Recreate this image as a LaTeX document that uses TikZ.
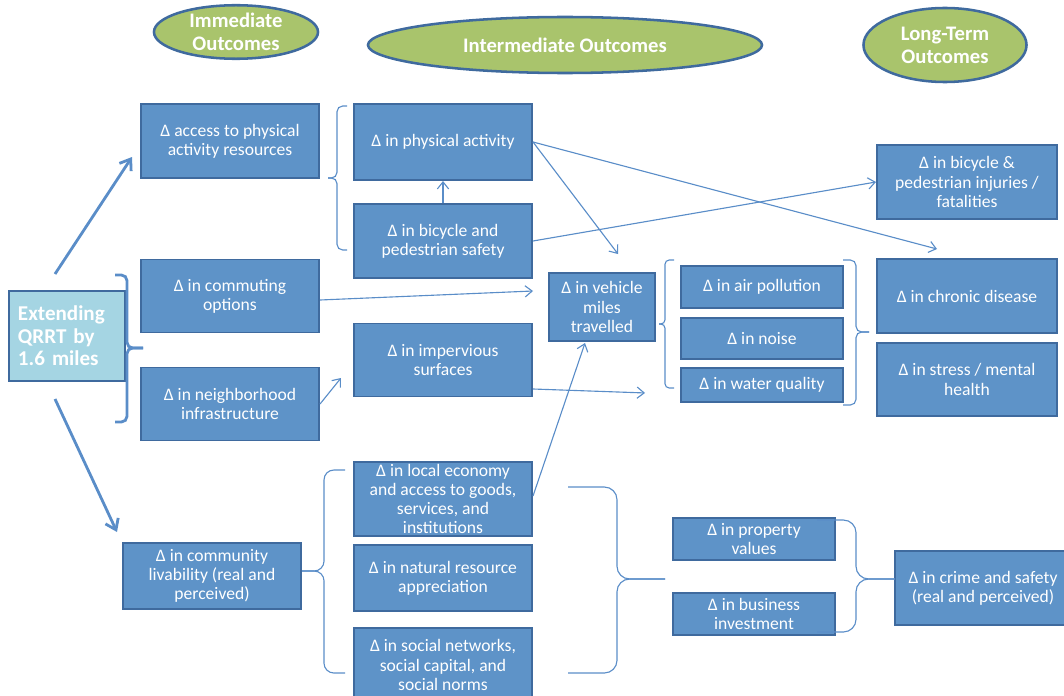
\documentclass[tikz,border=0pt]{standalone}
\usepackage{fontspec}
\setmainfont{Carlito}
\usepackage{tikz}
\usetikzlibrary{shapes.geometric, arrows.meta, positioning, calc}
\definecolor{BoxBlue}{HTML}{5E93C8}
\definecolor{EdgeBlue}{HTML}{3F6A9E}
\definecolor{LineBlue}{HTML}{5A8DC8}
\definecolor{HeadGreen}{HTML}{A9C46C}
\definecolor{StartCyan}{HTML}{A5D5E3}

\begin{document}
\begin{tikzpicture}[
  x=0.025cm, y=-0.025cm,
  heading/.style={ellipse, draw=EdgeBlue, line width=1.8pt, fill=HeadGreen, text=white, inner sep=0pt, align=center, font=\fontsize{14.7}{16.5}\selectfont\bfseries},
  box/.style={rectangle, draw=EdgeBlue, line width=1.4pt, fill=BoxBlue, text=white, inner sep=0pt, minimum width=4.45cm, minimum height=1.85cm, align=center, font=\fontsize{12.5}{13.7}\selectfont},
  start/.style={rectangle, draw=EdgeBlue, line width=1.4pt, fill=StartCyan, text=white, inner sep=0pt, minimum width=2.9cm, minimum height=2.25cm, text width=2.45cm, align=left, font=\fontsize{15}{16}\selectfont\bfseries},
  arrow/.style={-{Straight Barb[length=5pt,width=8pt]}, line width=0.8pt, LineBlue},
  bigarrow/.style={-{Straight Barb[length=7pt,width=10pt]}, line width=2pt, LineBlue},
  bracket/.style={line width=0.8pt, LineBlue, rounded corners=#1},
  bracket/.default=4pt
]
  \useasboundingbox (0,0) rectangle (1064,696);

  % Headings
  \node[heading, minimum width=4.1cm, minimum height=1.225cm] (immediate) at (236,32) {Immediate\\Outcomes};
  \node[heading, minimum width=9.85cm, minimum height=1.4cm] (intermediate) at (565,45) {Intermediate Outcomes};
  \node[heading, minimum width=4.075cm, minimum height=1.85cm] (longterm) at (945,45) {Long-Term\\Outcomes};

  % Start and immediate outcomes
  \node[start] (extend) at (67,336) {Extending\\QRRT by\\1.6 miles};
  \node[box] (access) at (230,141) {Δ access to physical\\activity resources};
  \node[box, minimum height=1.825cm] (commute) at (230,296) {Δ in commuting\\options};
  \node[box, minimum height=1.825cm, below=0.825cm of commute] (neighbor) {Δ in neighborhood\\infrastructure};
  \node[box, minimum height=1.65cm] (livability) at (212,576) {Δ in community\\livability (real and\\perceived)};

  % Intermediate outcomes
  \node[box, minimum height=1.9cm] (phys) at (443,142) {Δ in physical activity};
  \node[box, below=0.55cm of phys] (bikesafe) {Δ in bicycle and\\pedestrian safety};
  \node[box, minimum height=1.825cm] (impervious) at (443,360) {Δ in impervious\\surfaces};
  \node[box, minimum width=2.65cm, minimum height=1.7cm] (vmt) at (602,307) {Δ in vehicle\\miles\\travelled};
  \node[box, minimum width=4.05cm, minimum height=1.05cm] (air) at (762,287) {Δ in air pollution};
  \node[box, minimum width=4.05cm, minimum height=1.025cm, below=0.2cm of air] (noise) {Δ in noise};
  \node[box, minimum width=4.05cm, minimum height=0.85cm, below=0.175cm of noise] (water) {Δ in water quality};
  \node[box] (localecon) at (443,499) {Δ in local economy\\and access to goods,\\services, and\\institutions};
  \node[box, minimum height=1.65cm, below=0.175cm of localecon] (natural) {Δ in natural resource\\appreciation};
  \node[box, below=0.375cm of natural] (social) {Δ in social networks,\\social capital, and\\social norms};
  \node[box, minimum width=4.05cm, minimum height=1.05cm] (property) at (754,539) {Δ in property\\values};
  \node[box, minimum width=4.05cm, minimum height=1.05cm, below=0.775cm of property] (business) {Δ in business\\investment};

  % Long-term outcomes
  \node[box, minimum width=4.5cm] (injuries) at (967,182) {Δ in bicycle \&\\pedestrian injuries /\\fatalities};
  \node[box, minimum width=4.5cm] (chronic) at (967,296) {Δ in chronic disease};
  \node[box, minimum width=4.5cm, minimum height=1.825cm, below=0.2cm of chronic] (stress) {Δ in stress / mental\\health};
  \node[box, minimum width=4.4cm] (crime) at (983,588) {Δ in crime and safety\\(real and perceived)};

  % Arrows
  \draw[bigarrow] ($(extend.north)+(-12,-16)$) -- ($(access.west)+(-8,16)$);
  \draw[bigarrow] ($(extend.south)+(-12,17)$) -- ($(livability.north west)+(-5,-10)$);
  \draw[arrow] (bikesafe.north) -- (phys.south);
  \draw[arrow] (phys.east) -- ($(vmt.north)+(16,-18)$);
  \draw[arrow] (phys.east) -- ($(chronic.north)+(-30,-9)$);
  \draw[arrow] (bikesafe.east) -- (injuries.west);
  \draw[arrow] ($(commute.east)+(0,4)$) -- ($(vmt.west)+(-15,-16)$);
  \draw[arrow] (neighbor.east) -- ($(impervious.west)+(-12,18)$);
  \draw[arrow] ($(impervious.east)+(0,29)$) -- ($(water.west)+(-35,8)$);
  \draw[arrow] ($(localecon.east)+(0,-3)$) -- ($(vmt.south)+(-17,1)$);

  % Braces, one half at a time
  \draw[bracket, line width=2pt] (115,275) -| (127,348) -- (143,348);
  \draw[bracket, line width=2pt] (115,422) -| (127,348) -- (143,348);
  \draw[bracket] (347,106) -| (337,178) -- (328,178);
  \draw[bracket] (347,250) -| (337,178) -- (328,178);
  \draw[bracket=3pt] (674,260) -| (665,324) -- (659,324);
  \draw[bracket=3pt] (674,388) -| (665,324) -- (659,324);
  \draw[bracket] (843,260) -| (856,332) -- (869,332);
  \draw[bracket] (843,405) -| (856,332) -- (869,332);
  \draw[bracket=7pt] (345,470) -| (324,571) -- (302,571);
  \draw[bracket=7pt] (345,673) -| (324,571) -- (302,571);
  \draw[bracket=9pt] (568,487) -| (617,579) -- (665,579);
  \draw[bracket=9pt] (568,673) -| (617,579) -- (665,579);
  \draw[bracket=9pt] (817,520) -| (856,579) -- (895,579);
  \draw[bracket=9pt] (817,632) -| (856,579) -- (895,579);
\end{tikzpicture}
\end{document}
